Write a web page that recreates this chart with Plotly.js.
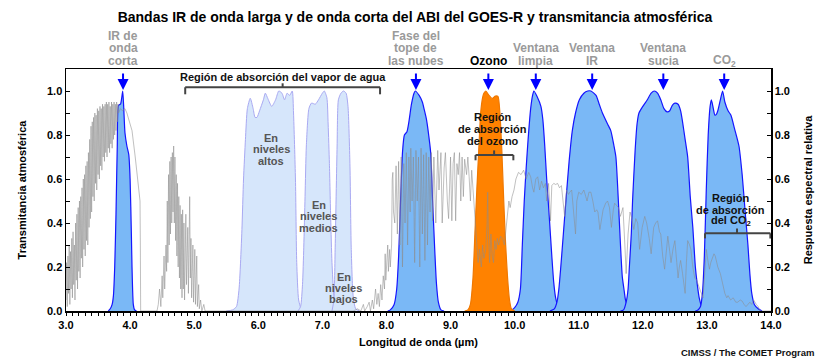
<!DOCTYPE html>
<html><head><meta charset="utf-8">
<script src="https://cdn.plot.ly/plotly-3.0.1.min.js"></script>
<style>html,body{margin:0;padding:0;background:#fff;}#chart{width:830px;height:361px;}</style>
</head><body><div id="chart"></div>
<script>
// ---- data: atmospheric transmittance [wavelength µm, transmittance] ----
const transmittance = [
[3.00,0.05],[3.01,0.22],[3.02,0.02],[3.03,0.25],[3.04,0.08],[3.05,0.30],[3.06,0.03],[3.07,0.27],[3.08,0.10],[3.09,0.33],
[3.10,0.06],[3.11,0.36],[3.12,0.12],[3.13,0.30],[3.14,0.05],[3.15,0.40],[3.16,0.14],[3.17,0.44],[3.18,0.10],[3.19,0.47],
[3.20,0.18],[3.21,0.50],[3.22,0.15],[3.23,0.52],[3.24,0.24],[3.25,0.56],[3.26,0.20],[3.27,0.60],[3.28,0.28],[3.29,0.62],
[3.30,0.25],[3.31,0.66],[3.32,0.32],[3.33,0.68],[3.34,0.30],[3.35,0.72],[3.36,0.38],[3.37,0.78],[3.38,0.42],[3.39,0.84],
[3.40,0.45],[3.41,0.86],[3.42,0.52],[3.43,0.88],[3.44,0.50],[3.45,0.90],[3.46,0.58],[3.47,0.89],[3.48,0.55],[3.49,0.92],
[3.50,0.62],[3.51,0.91],[3.52,0.60],[3.53,0.93],[3.54,0.66],[3.55,0.92],[3.56,0.64],[3.57,0.94],[3.58,0.70],[3.59,0.93],
[3.60,0.68],[3.61,0.94],[3.62,0.72],[3.63,0.95],[3.64,0.70],[3.65,0.94],[3.66,0.74],[3.67,0.95],[3.68,0.72],[3.69,0.93],
[3.70,0.76],[3.71,0.95],[3.72,0.74],[3.73,0.94],[3.74,0.78],[3.75,0.95],[3.76,0.80],[3.77,0.94],[3.78,0.82],[3.79,0.95],
[3.80,0.86],[3.81,0.94],[3.82,0.90],[3.85,0.92],[3.88,0.91],[3.92,0.92],[3.95,0.90],[3.97,0.88],[4.00,0.84],[4.03,0.82],
[4.08,0.70],[4.12,0.58],[4.155,0.50],[4.16,0.30],[4.165,0.0],[4.40,0.0],
[4.42,0.0],[4.44,0.03],[4.46,0.10],[4.48,0.02],[4.50,0.16],[4.51,0.06],[4.53,0.25],[4.54,0.10],[4.56,0.30],[4.57,0.18],
[4.58,0.50],[4.59,0.22],[4.60,0.62],[4.61,0.30],[4.62,0.68],[4.63,0.35],[4.64,0.70],[4.65,0.40],[4.66,0.72],[4.67,0.45],
[4.68,0.75],[4.69,0.40],[4.70,0.70],[4.71,0.32],[4.72,0.62],[4.73,0.25],[4.74,0.58],[4.75,0.20],[4.76,0.52],[4.77,0.15],
[4.78,0.48],[4.79,0.10],[4.80,0.44],[4.81,0.06],[4.82,0.46],[4.83,0.10],[4.84,0.40],[4.85,0.05],[4.87,0.44],[4.88,0.12],
[4.90,0.38],[4.91,0.08],[4.93,0.52],[4.94,0.15],[4.95,0.33],[4.96,0.06],[4.98,0.30],[4.99,0.04],[5.01,0.28],[5.02,0.03],
[5.04,0.25],[5.05,0.02],[5.07,0.12],[5.08,0.01],[5.10,0.05],[5.12,0.0],[5.15,0.03],[5.17,0.0],[5.20,0.0],[7.45,0.0],
[7.48,0.0],[7.55,0.01],[7.60,0.0],[7.64,0.03],[7.66,0.0],[7.70,0.02],[7.73,0.04],[7.75,0.0],[7.78,0.05],[7.80,0.01],
[7.83,0.10],[7.85,0.03],[7.87,0.08],[7.89,0.02],[7.91,0.12],[7.93,0.05],[7.95,0.16],[7.97,0.10],[7.98,0.26],[7.99,0.14],
[8.01,0.22],[8.02,0.30],[8.03,0.18],[8.05,0.28],[8.06,0.20],[8.08,0.30],[8.09,0.60],[8.10,0.63],[8.11,0.45],
[8.13,0.40],[8.15,0.66],[8.17,0.35],[8.19,0.68],[8.21,0.30],[8.23,0.70],[8.25,0.20],[8.27,0.67],[8.29,0.40],[8.31,0.72],
[8.33,0.30],[8.35,0.70],[8.37,0.45],[8.38,0.74],[8.40,0.50],[8.42,0.70],[8.44,0.22],[8.46,0.73],[8.48,0.50],[8.50,0.70],
[8.52,0.20],[8.54,0.74],[8.56,0.35],[8.58,0.71],[8.60,0.23],[8.62,0.72],[8.64,0.30],[8.66,0.70],[8.68,0.45],[8.70,0.72],
[8.72,0.41],[8.74,0.70],[8.77,0.40],[8.80,0.73],[8.82,0.55],[8.85,0.72],[8.87,0.40],[8.90,0.65],[8.92,0.72],[8.95,0.50],
[8.97,0.42],[9.00,0.70],[9.02,0.41],[9.04,0.67],[9.06,0.72],[9.08,0.41],[9.10,0.67],[9.12,0.62],[9.14,0.72],[9.16,0.50],
[9.18,0.70],[9.20,0.52],[9.22,0.69],[9.25,0.62],[9.27,0.70],[9.29,0.61],[9.31,0.50],[9.33,0.64],[9.36,0.50],[9.39,0.37],
[9.41,0.30],[9.43,0.22],[9.45,0.28],[9.48,0.20],[9.50,0.30],[9.52,0.24],[9.55,0.28],[9.57,0.40],[9.58,0.54],[9.59,0.35],
[9.61,0.22],[9.63,0.35],[9.65,0.25],[9.67,0.22],[9.69,0.32],[9.71,0.28],[9.73,0.33],[9.75,0.30],[9.78,0.34],[9.81,0.33],
[9.84,0.30],[9.86,0.36],[9.89,0.45],[9.91,0.50],[9.93,0.47],[9.96,0.52],[9.99,0.55],[10.02,0.60],[10.06,0.63],[10.10,0.62],
[10.14,0.64],[10.18,0.60],[10.22,0.63],[10.25,0.61],[10.28,0.56],[10.30,0.54],[10.33,0.60],[10.36,0.61],[10.39,0.55],[10.42,0.59],
[10.45,0.56],[10.48,0.58],[10.50,0.50],[10.53,0.58],[10.56,0.41],[10.58,0.57],[10.61,0.58],[10.64,0.575],[10.67,0.58],[10.70,0.56],
[10.73,0.57],[10.76,0.48],[10.78,0.43],[10.81,0.55],[10.84,0.53],[10.86,0.54],[10.89,0.55],[10.92,0.45],[10.95,0.35],[10.97,0.50],
[11.00,0.54],[11.04,0.53],[11.08,0.55],[11.11,0.52],[11.13,0.50],[11.16,0.54],[11.19,0.54],[11.22,0.50],[11.25,0.45],[11.28,0.46],
[11.30,0.45],[11.33,0.37],[11.36,0.44],[11.38,0.46],[11.42,0.49],[11.45,0.50],[11.48,0.47],[11.51,0.38],[11.54,0.46],[11.56,0.49],
[11.59,0.48],[11.62,0.47],[11.65,0.43],[11.69,0.47],[11.72,0.30],[11.74,0.17],[11.77,0.35],[11.80,0.45],[11.83,0.42],[11.86,0.37],
[11.89,0.42],[11.92,0.40],[11.95,0.28],[11.99,0.38],[12.03,0.43],[12.06,0.40],[12.10,0.33],[12.13,0.26],[12.17,0.38],[12.20,0.40],
[12.23,0.41],[12.26,0.36],[12.28,0.35],[12.31,0.25],[12.34,0.19],[12.37,0.30],[12.39,0.34],[12.42,0.27],[12.44,0.22],[12.47,0.28],
[12.50,0.32],[12.53,0.22],[12.55,0.15],[12.57,0.20],[12.59,0.23],[12.62,0.17],[12.66,0.08],[12.68,0.22],[12.70,0.32],[12.73,0.30],
[12.75,0.28],[12.78,0.20],[12.81,0.15],[12.84,0.14],[12.86,0.12],[12.90,0.09],[12.94,0.06],[12.97,0.20],[12.99,0.28],[13.02,0.22],
[13.04,0.19],[13.06,0.22],[13.08,0.24],[13.11,0.26],[13.13,0.25],[13.17,0.20],[13.21,0.17],[13.25,0.12],[13.28,0.08],[13.31,0.06],
[13.33,0.07],[13.37,0.05],[13.41,0.06],[13.45,0.04],[13.48,0.04],[13.52,0.05],[13.55,0.045],[13.58,0.03],[13.61,0.02],[13.64,0.03],
[13.67,0.04],[13.70,0.03],[13.73,0.05],[13.77,0.03],[13.80,0.02],[13.83,0.0],[13.90,0.0],[14.00,0.0]
];

// ---- ABI band spectral responses [wavelength µm, relative response] ----
const band07 = [[3.66,0],[3.69,0.01],[3.72,0.03],[3.74,0.07],[3.76,0.2],[3.78,0.44],[3.80,0.75],[3.82,0.935],[3.85,0.94],[3.87,0.97],[3.885,1.0],[3.90,0.93],[3.92,0.81],[3.95,0.75],[3.98,0.71],[4.00,0.6],[4.02,0.35],[4.03,0.2],[4.05,0.03],[4.07,0.005],[4.10,0]];
const band08 = [[5.50,0],[5.60,0.005],[5.66,0.02],[5.70,0.1],[5.72,0.2],[5.745,0.37],[5.77,0.6],[5.80,0.78],[5.83,0.92],[5.875,0.967],[5.92,0.92],[5.95,0.88],[5.98,0.88],[6.02,0.91],[6.08,0.96],[6.11,0.99],[6.15,0.965],[6.21,0.93],[6.27,0.96],[6.32,1.0],[6.37,0.99],[6.41,0.96],[6.45,0.99],[6.49,0.98],[6.53,1.0],[6.55,0.9],[6.58,0.6],[6.60,0.22],[6.63,0.05],[6.67,0.01],[6.72,0]];
const band09 = [[6.62,0],[6.66,0.02],[6.69,0.12],[6.71,0.29],[6.73,0.52],[6.75,0.75],[6.79,0.92],[6.83,0.945],[6.89,0.94],[6.94,0.96],[7.00,0.99],[7.03,1.0],[7.07,0.97],[7.09,0.85],[7.11,0.67],[7.13,0.42],[7.15,0.22],[7.18,0.07],[7.22,0.01],[7.27,0]];
const band10 = [[7.15,0],[7.18,0.05],[7.20,0.29],[7.23,0.75],[7.25,0.96],[7.29,0.99],[7.33,1.0],[7.37,0.99],[7.40,0.93],[7.43,0.67],[7.45,0.29],[7.48,0.07],[7.52,0.01],[7.58,0]];
const band11 = [[8.02,0],[8.06,0.005],[8.12,0.03],[8.16,0.1],[8.19,0.25],[8.22,0.5],[8.25,0.72],[8.28,0.8],[8.32,0.815],[8.35,0.86],[8.39,0.94],[8.43,0.99],[8.45,1.0],[8.51,0.98],[8.56,0.95],[8.59,0.915],[8.625,0.87],[8.65,0.82],[8.69,0.72],[8.72,0.5],[8.75,0.3],[8.78,0.125],[8.81,0.04],[8.85,0.005],[8.90,0]];
const band12 = [[9.22,0],[9.27,0.005],[9.31,0.03],[9.35,0.15],[9.38,0.35],[9.41,0.55],[9.44,0.73],[9.47,0.9],[9.50,0.97],[9.52,0.99],[9.55,1.0],[9.60,0.98],[9.65,0.966],[9.70,0.977],[9.74,0.975],[9.77,0.9],[9.80,0.73],[9.83,0.5],[9.86,0.3],[9.89,0.15],[9.92,0.05],[9.95,0.01],[10.0,0]];
const band13 = [[9.90,0],[9.96,0.005],[10.00,0.015],[10.05,0.04],[10.09,0.1],[10.12,0.3],[10.15,0.5],[10.18,0.65],[10.21,0.78],[10.25,0.92],[10.28,0.98],[10.30,1.0],[10.35,0.975],[10.41,0.93],[10.44,0.87],[10.47,0.75],[10.50,0.6],[10.54,0.43],[10.58,0.25],[10.61,0.13],[10.64,0.06],[10.68,0.02],[10.74,0.005],[10.80,0]];
const band14 = [[10.55,0],[10.62,0.01],[10.66,0.04],[10.69,0.1],[10.72,0.2],[10.76,0.35],[10.80,0.5],[10.85,0.68],[10.90,0.82],[10.95,0.9],[11.01,0.96],[11.08,0.99],[11.14,1.0],[11.19,1.0],[11.27,0.98],[11.32,0.94],[11.37,0.9],[11.45,0.85],[11.50,0.82],[11.55,0.75],[11.58,0.7],[11.61,0.55],[11.63,0.43],[11.66,0.25],[11.68,0.155],[11.71,0.09],[11.73,0.05],[11.77,0.02],[11.82,0.005],[11.90,0]];
const band15 = [[11.65,0],[11.70,0.005],[11.74,0.04],[11.77,0.1],[11.79,0.2],[11.82,0.35],[11.84,0.5],[11.88,0.73],[11.91,0.85],[11.94,0.9],[12.00,0.93],[12.07,0.96],[12.13,0.99],[12.18,1.0],[12.23,0.99],[12.28,0.96],[12.33,0.92],[12.38,0.905],[12.42,0.91],[12.46,0.935],[12.50,0.945],[12.55,0.94],[12.59,0.91],[12.62,0.86],[12.66,0.78],[12.70,0.7],[12.74,0.52],[12.78,0.38],[12.82,0.2],[12.85,0.12],[12.88,0.06],[12.92,0.02],[12.97,0.005],[13.05,0]];
const band16 = [[12.82,0],[12.86,0.005],[12.90,0.02],[12.93,0.08],[12.96,0.25],[12.99,0.55],[13.02,0.8],[13.05,0.93],[13.07,0.96],[13.10,0.92],[13.125,0.89],[13.15,0.895],[13.17,0.91],[13.21,0.96],[13.245,1.0],[13.28,0.95],[13.33,0.91],[13.375,0.89],[13.43,0.83],[13.50,0.75],[13.55,0.62],[13.60,0.44],[13.64,0.3],[13.67,0.17],[13.70,0.08],[13.74,0.03],[13.80,0.01],[13.86,0]];

// band centre arrows and their labels
const arrowWavelengths = [3.89, 8.46, 9.59, 10.33, 11.21, 12.32, 13.27];
const arrowLabels = [["IR de","onda","corta"],["Fase del","tope de","las nubes"],["Ozono"],["Ventana","limpia"],["Ventana","IR"],["Ventana","sucia"],["CO<sub>2</sub>"]];
const yTicks = [0,0.2,0.4,0.6,0.8,1.0];

const FONT = "Liberation Sans, Arial, Helvetica, sans-serif";
const px = p => (311 - p) / 242; // helper: figure pixel row -> paper y

function bandTrace(pts, fill, line, lw) {
  return {x: pts.map(p=>p[0]), y: pts.map(p=>p[1]), type:'scatter', mode:'lines',
    fill:'tozeroy', fillcolor: fill, line:{color: line, width: lw, shape:'spline', smoothing:0.6}, hoverinfo:'skip', showlegend:false};
}
const lightFill = '#d6e6fb', lightLine = '#a9a9f2';
const blueFill = '#7ab8f6', blueLine = '#1515ff';
const traces = [
  bandTrace(band08, lightFill, lightLine, 1),
  bandTrace(band09, lightFill, lightLine, 1),
  bandTrace(band10, lightFill, lightLine, 1),
  bandTrace(band07, blueFill, blueLine, 1.2),
  bandTrace(band11, blueFill, blueLine, 1.2),
  bandTrace(band13, blueFill, blueLine, 1.2),
  bandTrace(band14, blueFill, blueLine, 1.2),
  bandTrace(band15, blueFill, blueLine, 1.2),
  bandTrace(band16, blueFill, blueLine, 1.2),
  bandTrace(band12, '#ff8200', '#f07800', 1.2),
  {x: transmittance.map(p=>p[0]), y: transmittance.map(p=>p[1]), type:'scatter', mode:'lines',
   line:{color:'rgba(140,140,140,0.55)', width:1}, hoverinfo:'skip', showlegend:false},
  {x:[3,14], y:[0,0], yaxis:'y2', type:'scatter', mode:'lines', line:{width:0}, hoverinfo:'skip', showlegend:false}
];

const annotations = [];
function lines(list, x, y0, step, font, xref) {
  list.forEach((t,i)=>annotations.push({text:t, x:x, xref:xref||'x', y:px(y0+i*step), yref:'paper',
    xanchor:'center', yanchor:'middle', showarrow:false, font:font}));
}
const gray = {family:FONT, size:12, color:'#9a9a9a', weight:'bold'};
arrowWavelengths.forEach((w,i)=>{
  annotations.push({x:w, y:1.005, xref:'x', yref:'y', ax:0, ay:-25, text:' ', showarrow:true,
    arrowhead:2, arrowsize:1.1, arrowwidth:2, arrowcolor:'#0000ff', standoff:0});
  const L = arrowLabels[i];
  const f = (L[0]==='Ozono') ? {family:FONT, size:12, color:'#000', weight:'bold'} : gray;
  lines(L, w, 61 - (L.length-1)*12.5, 12.5, f);
});
const bold11 = {family:FONT, size:11, color:'#111', weight:'bold'};
const inner = {family:FONT, size:11, color:'#555', weight:'bold'};
lines(["Región de absorción del vapor de agua"], 6.38, 77, 12, bold11);
lines(["Región","de absorción","del ozono"], 9.66, 117, 12, bold11);
lines(["Región","de absorción","del CO<sub>2</sub>"], 13.37, 198, 11.7, bold11);
lines(["En","niveles","altos"], 6.2, 138, 11.3, inner);
lines(["En","niveles","medios"], 6.94, 205, 11.3, inner);
lines(["En","niveles","bajos"], 7.33, 277, 10.8, inner);
annotations.push({text:'CIMSS / The COMET Program', xref:'paper', x:(817-66)/705, xanchor:'right',
  yref:'paper', y:px(352), yanchor:'middle', showarrow:false, font:{family:FONT, size:9.5, color:'#111', weight:'bold'}});

const br = {type:'line', xref:'x', yref:'y', line:{color:'#444', width:2}};
const shapes = [
  // water vapour bracket
  {...br, x0:4.86, x1:7.90, y0:1.017, y1:1.017}, {...br, x0:4.86, x1:4.86, y0:1.017, y1:0.985},
  {...br, x0:7.90, x1:7.90, y0:1.017, y1:0.985}, {...br, x0:6.38, x1:6.38, y0:1.017, y1:1.035},
  // ozone bracket
  {...br, x0:9.39, x1:9.98, y0:0.709, y1:0.709}, {...br, x0:9.39, x1:9.39, y0:0.709, y1:0.685},
  {...br, x0:9.98, x1:9.98, y0:0.709, y1:0.685}, {...br, x0:9.68, x1:9.68, y0:0.709, y1:0.73},
  // CO2 bracket
  {...br, x0:12.97, x1:13.99, y0:0.353, y1:0.353}, {...br, x0:12.97, x1:12.97, y0:0.353, y1:0.33},
  {...br, x0:13.99, x1:13.99, y0:0.353, y1:0.33}, {...br, x0:13.47, x1:13.47, y0:0.353, y1:0.375}
];

const tickFont = {family:FONT, size:11, color:'#000', weight:'bold'};
const yCommon = {range:[0,1.1], tickvals:yTicks, tickformat:'.1f', ticks:'inside', ticklen:4, tickcolor:'#000',
  minor:{dtick:0.1, ticks:'inside', ticklen:4, tickcolor:'#000'}, showgrid:false, zeroline:false,
  showline:true, linecolor:'#000', linewidth:1.5, tickfont:tickFont, fixedrange:true};
const layout = {
  width:830, height:361, margin:{l:66, r:59, t:69, b:50}, paper_bgcolor:'#fff', plot_bgcolor:'#fff',
  font:{family:FONT},
  title:{text:'Bandas IR de onda larga y de onda corta del ABI del GOES-R y transmitancia atmosférica',
    font:{family:FONT, size:14, color:'#000', weight:'bold'}, x:0.5, xref:'container', y:1-17/361, yref:'container', yanchor:'middle'},
  xaxis:{range:[3,14], dtick:1, tick0:3, tickformat:'.1f', ticks:'outside', ticklen:3, tickcolor:'#000',
    minor:{dtick:0.1, ticks:'outside', ticklen:3, tickcolor:'#000'}, showgrid:false, zeroline:false,
    showline:true, mirror:true, linecolor:'#000', linewidth:1.5, tickfont:tickFont,
    title:{text:'Longitud de onda (µm)', font:{family:FONT, size:11, color:'#000', weight:'bold'}, standoff:8}},
  yaxis:{...yCommon, mirror:true, title:{text:'Transmitancia atmosférica', font:{family:FONT, size:11, color:'#000', weight:'bold'}, standoff:18}},
  yaxis2:{...yCommon, overlaying:'y', side:'right', title:{text:'Respuesta espectral relativa', font:{family:FONT, size:11, color:'#000', weight:'bold'}, standoff:14}},
  annotations:annotations, shapes:shapes, showlegend:false
};
Plotly.newPlot('chart', traces, layout, {staticPlot:true, displayModeBar:false});
</script></body></html>
